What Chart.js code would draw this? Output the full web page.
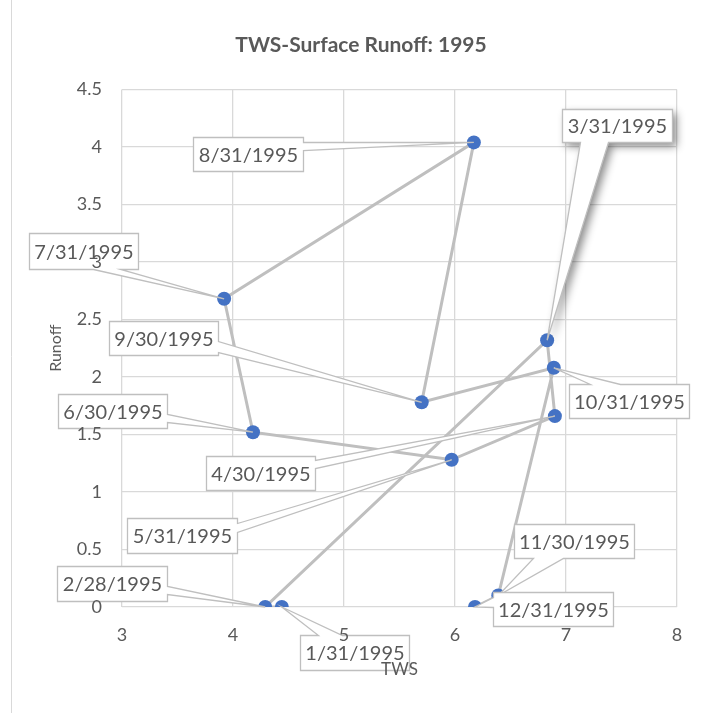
<!DOCTYPE html>
<html>
<head>
<meta charset="utf-8">
<script src="https://cdn.jsdelivr.net/npm/chart.js@4.4.1/dist/chart.umd.min.js"></script>
<style>
  html, body { margin: 0; padding: 0; background: #fff; }
  #wrap { width: 701px; height: 713px; }
</style>
</head>
<body>
<div id="wrap"><canvas id="tws"></canvas></div>
<script>
const chartTitle = 'TWS-Surface Runoff: 1995'
const dates = ['1/31/1995', '2/28/1995', '3/31/1995', '4/30/1995', '5/31/1995', '6/30/1995',
  '7/31/1995', '8/31/1995', '9/30/1995', '10/31/1995', '11/30/1995', '12/31/1995']
const tws = [4.44, 4.29, 6.83, 6.90, 5.97, 4.18, 3.92, 6.17, 5.70, 6.89, 6.39, 6.18]
const runoff = [0, 0, 2.32, 1.66, 1.28, 1.52, 2.68, 4.04, 1.78, 2.08, 0.10, 0]

// callout placement, pixels relative to the point: box offset, size, wedge side and base
const callouts = [
  { dx: 18, dy: 28, w: 109, h: 35, side: 'top', b1: 18, b2: 42 },
  { dx: -208, dy: -41, w: 110, h: 35, side: 'right', b1: 20, b2: 28 },
  { dx: 15, dy: -231, w: 110, h: 33, side: 'bottom', b1: 18, b2: 46, shadow: true },
  { dx: -349, dy: 40, w: 109, h: 34, side: 'right', b1: 4, b2: 12 },
  { dx: -325, dy: 58, w: 110, h: 35, side: 'right', b1: 5, b2: 14 },
  { dx: -195, dy: -38, w: 109, h: 34, side: 'right', b1: 20, b2: 28 },
  { dx: -195, dy: -66, w: 109, h: 36, side: 'bottom', b1: 64, b2: 91 },
  { dx: -281, dy: -5, w: 110, h: 34, side: 'right', b1: 5, b2: 13 },
  { dx: -313, dy: -81, w: 109, h: 34, side: 'right', b1: 20, b2: 31 },
  { dx: 15, dy: 16, w: 120, h: 34, side: 'top', b1: 21, b2: 51 },
  { dx: 16, dy: -72, w: 120, h: 34, side: 'bottom', b1: 19, b2: 49 },
  { dx: 18, dy: -15, w: 120, h: 34, side: 'left', b1: 5, b2: 15 }
]

const points = tws.map((x, i) => ({ x: x, y: runoff[i] }))

function calloutPath(ctx, bx, by, w, h, c, tx, ty) {
  ctx.beginPath()
  ctx.moveTo(bx, by)
  if (c.side === 'top') {
    ctx.lineTo(bx + c.b1, by); ctx.lineTo(tx, ty); ctx.lineTo(bx + c.b2, by)
  }
  ctx.lineTo(bx + w, by)
  if (c.side === 'right') {
    ctx.lineTo(bx + w, by + c.b1); ctx.lineTo(tx, ty); ctx.lineTo(bx + w, by + c.b2)
  }
  ctx.lineTo(bx + w, by + h)
  if (c.side === 'bottom') {
    ctx.lineTo(bx + c.b2, by + h); ctx.lineTo(tx, ty); ctx.lineTo(bx + c.b1, by + h)
  }
  ctx.lineTo(bx, by + h)
  if (c.side === 'left') {
    ctx.lineTo(bx, by + c.b2); ctx.lineTo(tx, ty); ctx.lineTo(bx, by + c.b1)
  }
  ctx.closePath()
}

// data callouts go over the series, tick labels (z: 1) go over the callouts
const calloutPlugin = {
  id: 'callouts',
  afterDatasetsDraw(chart) {
    const ctx = chart.ctx
    const meta = chart.getDatasetMeta(0)
    ctx.save()
    meta.data.forEach((pt, i) => {
      const c = callouts[i]
      const tx = pt.x, ty = pt.y
      const bx = Math.round(tx + c.dx) + 0.5
      const by = Math.round(ty + c.dy) + 0.5
      calloutPath(ctx, bx, by, c.w, c.h, c, tx, ty)
      ctx.fillStyle = '#ffffff'
      if (c.shadow) {
        ctx.shadowColor = 'rgba(0,0,0,0.45)'
        ctx.shadowBlur = 9
        ctx.shadowOffsetX = 4
        ctx.shadowOffsetY = 4
      }
      ctx.fill()
      ctx.shadowColor = 'transparent'
      ctx.shadowBlur = 0
      ctx.shadowOffsetX = 0
      ctx.shadowOffsetY = 0
      ctx.strokeStyle = '#bfbfbf'
      ctx.lineWidth = 1.3
      ctx.stroke()
      ctx.fillStyle = '#595959'
      ctx.font = '20px Lato'
      ctx.textAlign = 'center'
      ctx.textBaseline = 'middle'
      ctx.fillText(dates[i], bx + c.w / 2, by + c.h / 2 + 1)
    })
    ctx.restore()
  }
}

// white background, chart frame edge, title and the two axis titles (drawn last, like Excel)
const framePlugin = {
  id: 'frame',
  beforeDraw(chart) {
    const ctx = chart.ctx
    ctx.save()
    ctx.fillStyle = '#ffffff'
    ctx.fillRect(0, 0, chart.width, chart.height)
    ctx.strokeStyle = '#d9d9d9'
    ctx.lineWidth = 1
    ctx.beginPath()
    ctx.moveTo(11.5, 0)
    ctx.lineTo(11.5, chart.height)
    ctx.stroke()
    ctx.restore()
  },
  afterDraw(chart) {
    const ctx = chart.ctx
    const area = chart.chartArea
    ctx.save()
    ctx.fillStyle = '#595959'
    ctx.textAlign = 'center'
    ctx.textBaseline = 'middle'
    ctx.font = 'bold 21px Lato'
    ctx.fillText(chartTitle, 361, 45)
    ctx.font = '17px Lato'
    ctx.fillText('TWS', (area.left + area.right) / 2, 670)
    ctx.font = '16px Lato'
    ctx.translate(56, (area.top + area.bottom) / 2)
    ctx.rotate(-Math.PI / 2)
    ctx.fillText('Runoff', 0, 0)
    ctx.restore()
  }
}

const twsCanvas = document.getElementById('tws')
let twsChart = new Chart(twsCanvas, {
  type: 'scatter',
  data: {
    datasets: [
      {
        label: 'Runoff',
        data: points,
        showLine: true,
        borderColor: '#bfbfbf',
        borderWidth: 3,
        backgroundColor: '#4472c4',
        pointBackgroundColor: '#4472c4',
        pointBorderColor: '#4472c4',
        pointRadius: 7,
        pointBorderWidth: 0,
        tension: 0
      }
    ]
  },
  options: {
    responsive: true,
    maintainAspectRatio: false,
    animation: false,
    layout: { padding: { top: 89.5, left: 0, right: 24, bottom: 0 } },
    plugins: {
      legend: { display: false },
      tooltip: { enabled: false },
      title: { display: false }
    },
    scales: {
      x: {
        type: 'linear',
        min: 3,
        max: 8,
        ticks: { stepSize: 1, color: '#595959', font: { family: 'Lato', size: 18 }, padding: 17, z: 1 },
        grid: { color: '#d9d9d9', lineWidth: 1.3, drawTicks: false },
        border: { display: false },
        afterFit(scale) { scale.height = 106 }
      },
      y: {
        type: 'linear',
        min: 0,
        max: 4.5,
        ticks: {
          stepSize: 0.5, color: '#595959', font: { family: 'Lato', size: 18 }, padding: 20, z: 1,
          callback: (v) => String(Math.round(v * 10) / 10)
        },
        grid: { color: '#d9d9d9', lineWidth: 1.3, drawTicks: false },
        border: { display: false },
        afterFit(scale) { scale.width = 122 }
      }
    }
  },
  plugins: [framePlugin, calloutPlugin]
})
</script>
</body>
</html>
